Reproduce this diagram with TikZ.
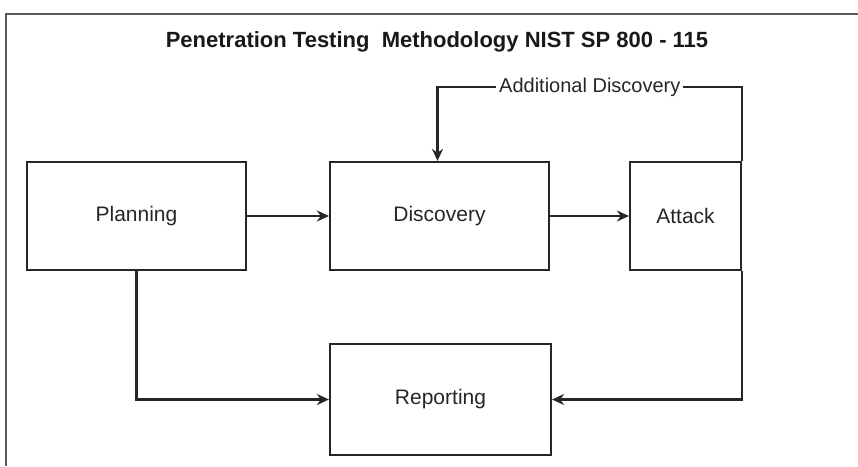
\documentclass[tikz,border=0pt]{standalone}
\usepackage{fontspec}
\setmainfont{Liberation Sans}
\usetikzlibrary{arrows.meta}
\begin{document}
\begin{tikzpicture}[x=1pt,y=-1pt,
  box/.style={draw=black!85, line width=2.2pt, rectangle, inner sep=0pt, font=\fontsize{21}{24}\selectfont, text=black!85},
  conn/.style={draw=black!85, line width=2.2pt, -{Stealth[length=12pt,width=11pt]}},
  lbl/.style={fill=white, font=\fontsize{20}{23}\selectfont, text=black!85, inner sep=3pt}]
\useasboundingbox (0,0) rectangle (858,466);
\fill[white] (0,0) rectangle (858,466);
\draw[black!65, line width=2.2pt] (6,466) -- (6,14) -- (858,14);
\node[font=\bfseries\fontsize{22}{25}\selectfont, text=black!90] (title) at (437,42) {Penetration Testing\ \ Methodology NIST SP 800 - 115};
\node[box, minimum width=219pt, minimum height=108pt] (plan) at (136.5,216) {Planning};
\node[box, minimum width=219pt, minimum height=108pt] (disc) at (439.5,216) {Discovery};
\node[box, minimum width=111pt, minimum height=108pt] (att) at (685.5,216) {Attack};
\node[box, minimum width=221pt, minimum height=111pt] (rep) at (440.5,399.5) {Reporting};
\draw[conn] (plan) -- (disc);
\draw[conn] (disc) -- (att);
\draw[conn] (plan.south) |- (rep.west);
\draw[conn] (att.south east) |- (rep.east);
\draw[conn] (att.north east) -- ++(0,-74) -| node[lbl, pos=0.25] (add) {Additional Discovery} ([xshift=-2pt]disc.north);
\end{tikzpicture}
\end{document}
